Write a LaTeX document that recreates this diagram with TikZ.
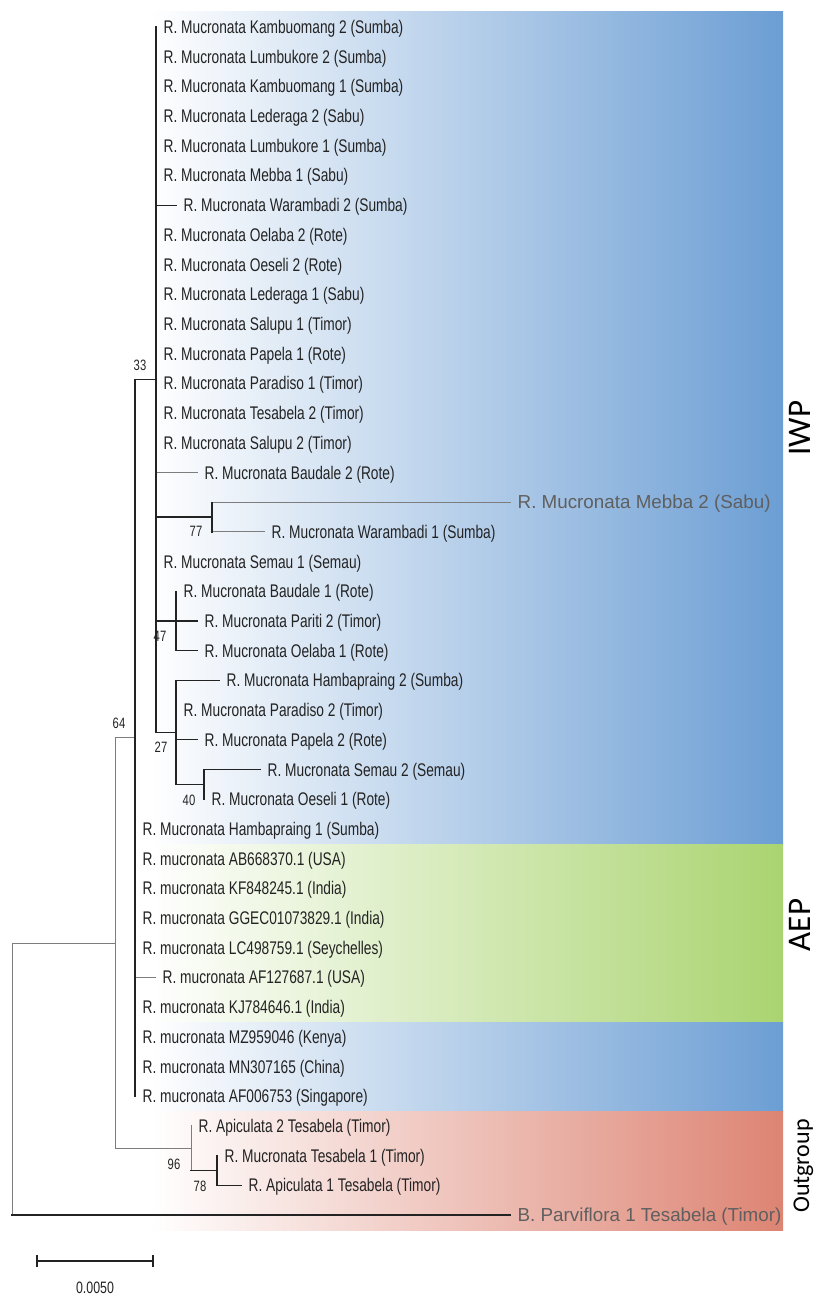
\documentclass[tikz,border=0pt]{standalone}
\usepackage{fontspec}
\newfontfamily\treefont{Liberation Sans}[FakeStretch=0.75]
\newfontfamily\widefont{Liberation Sans}
\newfontfamily\cladefont{Carlito}
\definecolor{bandblue}{RGB}{108,158,212}
\definecolor{bandgreen}{RGB}{170,212,112}
\definecolor{bandred}{RGB}{221,132,115}
\definecolor{textc}{RGB}{35,35,35}
\definecolor{textl}{RGB}{95,95,95}
\definecolor{darkline}{RGB}{35,35,35}
\definecolor{lightline}{RGB}{125,125,125}
\tikzset{
  lab/.style={font=\treefont\fontsize{18.3}{20}\selectfont, text=textc, anchor=base west, inner sep=0pt, xshift=7.5pt, yshift=-6.5pt},
  labl/.style={lab, font=\widefont\fontsize{18.8}{20}\selectfont, text=textl},
  bs/.style={font=\treefont\fontsize{15}{16}\selectfont, text=textc, inner sep=0pt},
  dbr/.style={draw=darkline, line width=1.3pt, line cap=rect},
  lbr/.style={draw=lightline, line width=1pt, line cap=rect},
  clade/.style={text=black, rotate=90, anchor=base, inner sep=0pt}
}
\begin{document}
\begin{tikzpicture}[x=1pt,y=-1pt]
\useasboundingbox (0,0) rectangle (817,1300);
% background bands
\shade[left color=white, right color=bandblue] (150,12) rectangle (783,844);
\shade[left color=white, right color=bandgreen] (150,844) rectangle (783,1022);
\shade[left color=white, right color=bandblue] (150,1022) rectangle (783,1111);
\shade[left color=white, right color=bandred] (150,1111) rectangle (783,1230);
% internal nodes
\coordinate (root) at (12,1079);
\coordinate (nC) at (115,943.1);
\coordinate (nB) at (135,737.95);
\coordinate (nA) at (156,379.7);
\coordinate (n77) at (212,517.05);
\coordinate (n47) at (176,621);
\coordinate (n27) at (176,732.4);
\coordinate (n40) at (204,784.35);
\coordinate (n96) at (191,1148.2);
\coordinate (n78) at (217,1170.45);
% leaf ends
\coordinate (e1) at (156,27.0);
\coordinate (e2) at (156,56.7);
\coordinate (e3) at (156,86.4);
\coordinate (e4) at (156,116.1);
\coordinate (e5) at (156,145.8);
\coordinate (e6) at (156,175.5);
\coordinate (e7) at (176,205.2);
\coordinate (e8) at (156,234.9);
\coordinate (e9) at (156,264.6);
\coordinate (e10) at (156,294.3);
\coordinate (e11) at (156,324.0);
\coordinate (e12) at (156,353.7);
\coordinate (e13) at (156,383.4);
\coordinate (e14) at (156,413.1);
\coordinate (e15) at (156,442.8);
\coordinate (e16) at (197,472.5);
\coordinate (e17) at (510,502.2);
\coordinate (e18) at (264,531.9);
\coordinate (e19) at (156,561.6);
\coordinate (e20) at (176,591.3);
\coordinate (e21) at (197,621.0);
\coordinate (e22) at (197,650.7);
\coordinate (e23) at (219,680.4);
\coordinate (e24) at (176,710.1);
\coordinate (e25) at (197,739.8);
\coordinate (e26) at (260,769.5);
\coordinate (e27) at (204,799.2);
\coordinate (e28) at (135,828.9);
\coordinate (e29) at (135,858.6);
\coordinate (e30) at (135,888.3);
\coordinate (e31) at (135,918.0);
\coordinate (e32) at (135,947.7);
\coordinate (e33) at (155,977.4);
\coordinate (e34) at (135,1007.1);
\coordinate (e35) at (135,1036.8);
\coordinate (e36) at (135,1066.5);
\coordinate (e37) at (135,1096.2);
\coordinate (e38) at (191,1125.9);
\coordinate (e39) at (217,1155.6);
\coordinate (e40) at (241,1185.3);
\coordinate (e41) at (510,1215.0);
% light branches
\draw[lbr] (root |- nC) -- (root |- e41);
\draw[lbr] (root |- nC) -- (nC);
\draw[lbr] (nC |- nB) -- (nC |- n96);
\draw[lbr] (nC |- nB) -- (nB);
\draw[lbr] (nC |- n96) -- (n96);
\draw[lbr] (n96 |- e38) -- (n96 |- n78);
\draw[lbr] (nB |- e33) -- (e33);
\draw[lbr] (nA |- e16) -- (e16);
\draw[lbr] (n77 |- e17) -- (e17);
\draw[lbr] (n77 |- e18) -- (e18);
% dark branches
\draw[dbr] (root |- e41) -- (e41);
\draw[dbr] (nB |- nA) -- (nB |- e37);
\draw[dbr] (nB |- nA) -- (nA);
\draw[dbr] (nA |- e1) -- (nA |- n27);
\draw[dbr] (nA |- e7) -- (e7);
\draw[dbr] (nA |- n77) -- (n77);
\draw[dbr] (nA |- n47) -- (n47);
\draw[dbr] (nA |- n27) -- (n27);
\draw[dbr] (n77 |- e17) -- (n77 |- e18);
\draw[dbr] (n47 |- e20) -- (n47 |- e22);
\draw[dbr] (n47 |- e21) -- (e21);
\draw[dbr] (n47 |- e22) -- (e22);
\draw[dbr] (n27 |- e23) -- (n27 |- n40);
\draw[dbr] (n27 |- e23) -- (e23);
\draw[dbr] (n27 |- e25) -- (e25);
\draw[dbr] (n27 |- n40) -- (n40);
\draw[dbr] (n40 |- e26) -- (n40 |- e27);
\draw[dbr] (n40 |- e26) -- (e26);
\draw[dbr] (n96 |- n78) -- (n78);
\draw[dbr] (n78 |- e39) -- (n78 |- e40);
\draw[dbr] (n78 |- e40) -- (e40);
% leaf labels
\node[lab] (t1) at (e1) {R. Mucronata Kambuomang 2 (Sumba)};
\node[lab] (t2) at (e2) {R. Mucronata Lumbukore 2 (Sumba)};
\node[lab] (t3) at (e3) {R. Mucronata Kambuomang 1 (Sumba)};
\node[lab] (t4) at (e4) {R. Mucronata Lederaga 2 (Sabu)};
\node[lab] (t5) at (e5) {R. Mucronata Lumbukore 1 (Sumba)};
\node[lab] (t6) at (e6) {R. Mucronata Mebba 1 (Sabu)};
\node[lab] (t7) at (e7) {R. Mucronata Warambadi 2 (Sumba)};
\node[lab] (t8) at (e8) {R. Mucronata Oelaba 2 (Rote)};
\node[lab] (t9) at (e9) {R. Mucronata Oeseli 2 (Rote)};
\node[lab] (t10) at (e10) {R. Mucronata Lederaga 1 (Sabu)};
\node[lab] (t11) at (e11) {R. Mucronata Salupu 1 (Timor)};
\node[lab] (t12) at (e12) {R. Mucronata Papela 1 (Rote)};
\node[lab] (t13) at (e13) {R. Mucronata Paradiso 1 (Timor)};
\node[lab] (t14) at (e14) {R. Mucronata Tesabela 2 (Timor)};
\node[lab] (t15) at (e15) {R. Mucronata Salupu 2 (Timor)};
\node[lab] (t16) at (e16) {R. Mucronata Baudale 2 (Rote)};
\node[labl] (t17) at (e17) {R. Mucronata Mebba 2 (Sabu)};
\node[lab] (t18) at (e18) {R. Mucronata Warambadi 1 (Sumba)};
\node[lab] (t19) at (e19) {R. Mucronata Semau 1 (Semau)};
\node[lab] (t20) at (e20) {R. Mucronata Baudale 1 (Rote)};
\node[lab] (t21) at (e21) {R. Mucronata Pariti 2 (Timor)};
\node[lab] (t22) at (e22) {R. Mucronata Oelaba 1 (Rote)};
\node[lab] (t23) at (e23) {R. Mucronata Hambapraing 2 (Sumba)};
\node[lab] (t24) at (e24) {R. Mucronata Paradiso 2 (Timor)};
\node[lab] (t25) at (e25) {R. Mucronata Papela 2 (Rote)};
\node[lab] (t26) at (e26) {R. Mucronata Semau 2 (Semau)};
\node[lab] (t27) at (e27) {R. Mucronata Oeseli 1 (Rote)};
\node[lab] (t28) at (e28) {R. Mucronata Hambapraing 1 (Sumba)};
\node[lab] (t29) at (e29) {R. mucronata AB668370.1 (USA)};
\node[lab] (t30) at (e30) {R. mucronata KF848245.1 (India)};
\node[lab] (t31) at (e31) {R. mucronata GGEC01073829.1 (India)};
\node[lab] (t32) at (e32) {R. mucronata LC498759.1 (Seychelles)};
\node[lab] (t33) at (e33) {R. mucronata AF127687.1 (USA)};
\node[lab] (t34) at (e34) {R. mucronata KJ784646.1 (India)};
\node[lab] (t35) at (e35) {R. mucronata MZ959046 (Kenya)};
\node[lab] (t36) at (e36) {R. mucronata MN307165 (China)};
\node[lab] (t37) at (e37) {R. mucronata AF006753 (Singapore)};
\node[lab] (t38) at (e38) {R. Apiculata 2 Tesabela (Timor)};
\node[lab] (t39) at (e39) {R. Mucronata Tesabela 1 (Timor)};
\node[lab] (t40) at (e40) {R. Apiculata 1 Tesabela (Timor)};
\node[labl] (t41) at (e41) {B. Parviflora 1 Tesabela (Timor)};
% bootstrap values
\node[bs] (b33) at (140,365) {33};
\node[bs] (b64) at (119,723) {64};
\node[bs] (b77) at (196,531) {77};
\node[bs] (b47) at (160,636) {47};
\node[bs] (b27) at (161,747) {27};
\node[bs] (b40) at (189,800) {40};
\node[bs] (b96) at (174,1164) {96};
\node[bs] (b78) at (200,1186) {78};
% clade labels
\node[clade, font=\cladefont\fontsize{33}{35}\selectfont] (iwp) at (810,428) {IWP};
\node[clade, font=\cladefont\fontsize{33}{35}\selectfont] (aep) at (810,925) {AEP};
\node[clade, font=\cladefont\fontsize{24}{26}\selectfont] (outg) at (809,1166) {Outgroup};
% scale bar
\coordinate (sbL) at (37,1261);
\coordinate (sbR) at (153,1261);
\draw[dbr, line cap=butt, line width=1.2pt] (sbL) -- (sbR);
\draw[dbr, line cap=butt, line width=1.2pt] ([yshift=6pt]sbL) -- ([yshift=-6pt]sbL);
\draw[dbr, line cap=butt, line width=1.2pt] ([yshift=6pt]sbR) -- ([yshift=-6pt]sbR);
\node[bs, font=\treefont\fontsize{16.5}{18}\selectfont] (sblab) at (95,1288) {0.0050};
\end{tikzpicture}
\end{document}
